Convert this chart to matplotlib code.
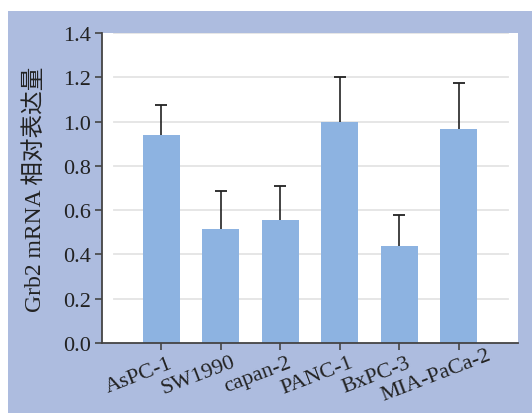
import matplotlib
matplotlib.use("Agg")
import matplotlib.pyplot as plt
import matplotlib.transforms as mtransforms
from matplotlib.patches import Rectangle
import numpy as np

# data
cells = ["AsPC-1", "SW1990", "capan-2", "PANC-1", "BxPC-3", "MIA-PaCa-2"]
expr = [0.94, 0.515, 0.555, 1.0, 0.44, 0.965]
err = [0.135, 0.17, 0.155, 0.2, 0.14, 0.21]
yticks = [0.0, 0.2, 0.4, 0.6, 0.8, 1.0, 1.2, 1.4]

bg = "#adbcdf"
barc = "#8db3e1"
plt.rcParams["font.family"] = ["Liberation Serif", "Noto Sans CJK SC"]

W, H = 532, 414
fig = plt.figure(figsize=(W / 100, H / 100), dpi=100, facecolor="white")
# lavender panel behind the plot
fig.patches.append(Rectangle((8 / W, 0), 1, (H - 12) / H, transform=fig.transFigure,
                             facecolor=bg, edgecolor="none", zorder=-10))

ax = fig.add_axes([102 / W, 1 - 344 / H, (518 - 102) / W, (344 - 34) / H])
ax.set_facecolor("white")

x = np.arange(len(cells))
tops = np.array(expr) + np.array(err)
ax.bar(x, expr, width=0.62, color=barc, zorder=2)
# only the upper half of each error bar
ax.errorbar(x, expr, yerr=[np.zeros(len(err)), err], fmt="none", ecolor="#222222",
            elinewidth=1.2, capsize=0, zorder=3)
ax.plot(x, tops, ls="none", marker="_", ms=8, mew=1.3, color="#222222", zorder=3)

# grid lines that stop short of the spines
for yv in yticks[1:]:
    ax.plot([-0.8, 5.84], [yv, yv], color="#e4e4e4", lw=1.3, zorder=1)

ax.set_xlim(-1, 6)
ax.set_ylim(0, 1.4)
ax.set_yticks(yticks)
ax.set_yticklabels(["%.1f" % v for v in yticks], fontsize=16, color="#222222")
ax.set_xticks(x)
ax.set_xticklabels([""] * len(cells))

# slanted category labels, shifted left of their ticks like the original
off = mtransforms.ScaledTranslation(-21 / 100, -36 / 100, fig.dpi_scale_trans)
for xi, name in zip(x, cells):
    ax.text(xi, 0, name, transform=ax.get_xaxis_transform() + off,
            fontsize=16, color="#222222", rotation=21, ha="center", va="baseline",
            rotation_mode="anchor", clip_on=False)

for s in ["top", "right"]:
    ax.spines[s].set_visible(False)
for s in ["left", "bottom"]:
    ax.spines[s].set_color("#444444")
    ax.spines[s].set_linewidth(1.3)
ax.tick_params(axis="both", direction="out", length=5, width=1.2, color="#444444", pad=3)

ax.set_ylabel("Grb2 mRNA 相对表达量", fontsize=17, color="#222222")
ax.yaxis.set_label_coords(-0.135, 0.5)

fig.savefig("out.png", dpi=100, facecolor=fig.get_facecolor())
